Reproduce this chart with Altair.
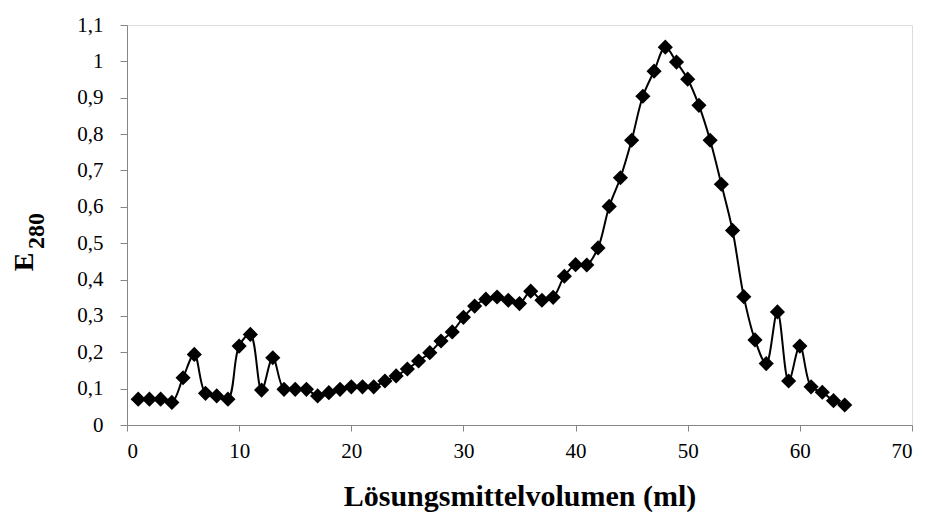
import altair as alt
import pandas as pd

volume = list(range(1, 65))
e280 = [0.071, 0.071, 0.071, 0.062, 0.13, 0.194, 0.087, 0.08, 0.071, 0.217,
        0.249, 0.096, 0.185, 0.098, 0.098, 0.098, 0.08, 0.089, 0.098, 0.105,
        0.105, 0.105, 0.121, 0.135, 0.154, 0.176, 0.199, 0.231, 0.256, 0.296,
        0.327, 0.346, 0.352, 0.343, 0.334, 0.368, 0.343, 0.351, 0.409, 0.441,
        0.44, 0.487, 0.601, 0.68, 0.783, 0.904, 0.973, 1.039, 0.998, 0.951,
        0.879, 0.783, 0.662, 0.535, 0.353, 0.234, 0.169, 0.311, 0.121, 0.217,
        0.105, 0.09, 0.067, 0.055]

x_ticks = [0, 10, 20, 30, 40, 50, 60, 70]
y_ticks = [0, 0.1, 0.2, 0.3, 0.4, 0.5, 0.6, 0.7, 0.8, 0.9, 1.0, 1.1]

df = pd.DataFrame({"v": volume, "e": e280})

FONT = "Liberation Serif"

x_enc = alt.X("v:Q", scale=alt.Scale(domain=[0, 70], nice=False, zero=False),
              axis=alt.Axis(values=x_ticks, title="Lösungsmittelvolumen (ml)",
                            grid=False, tickSize=6, labelPadding=9,
                            titlePadding=20, titleFontSize=30,
                            titleFontWeight="bold", titleFont=FONT,
                            labelFont=FONT, labelFontSize=21,
                            labelColor="black", titleColor="black",
                            domainColor="#868686", tickColor="#868686"))
y_enc = alt.Y("e:Q", scale=alt.Scale(domain=[0, 1.1], nice=False),
              axis=alt.Axis(values=y_ticks, title=None, grid=False,
                            tickSize=7, labelPadding=17,
                            labelExpr="replace(format(datum.value, '.1~f'), '.', ',')",
                            labelFont=FONT, labelFontSize=21, labelColor="black",
                            domainColor="#868686", tickColor="#868686"))

base = alt.Chart(df).encode(x=x_enc, y=y_enc)

line = base.mark_line(color="black", strokeWidth=2, interpolate="catmull-rom")
pts = base.mark_point(shape="diamond", filled=True, color="black", size=230, opacity=1)

title_e = alt.Chart(pd.DataFrame({"t": ["E"]})).mark_text(
    font=FONT, fontSize=28, fontWeight="bold", angle=270, align="center",
    baseline="middle", color="black"
).encode(text="t:N", x=alt.value(-102), y=alt.value(237))

title_sub = alt.Chart(pd.DataFrame({"t": ["280"]})).mark_text(
    font=FONT, fontSize=24, fontWeight="bold", angle=270, align="center",
    baseline="middle", color="black"
).encode(text="t:N", x=alt.value(-90), y=alt.value(206))

chart = alt.layer(line, pts, title_e, title_sub).properties(
    width=785, height=400,
    autosize=alt.AutoSizeParams(type="none"),
    padding={"left": 127, "top": 25, "right": 18, "bottom": 103},
).configure_view(stroke=None).configure(background="white")

chart.save("out.html", embed_options={"renderer": "svg", "actions": False})
